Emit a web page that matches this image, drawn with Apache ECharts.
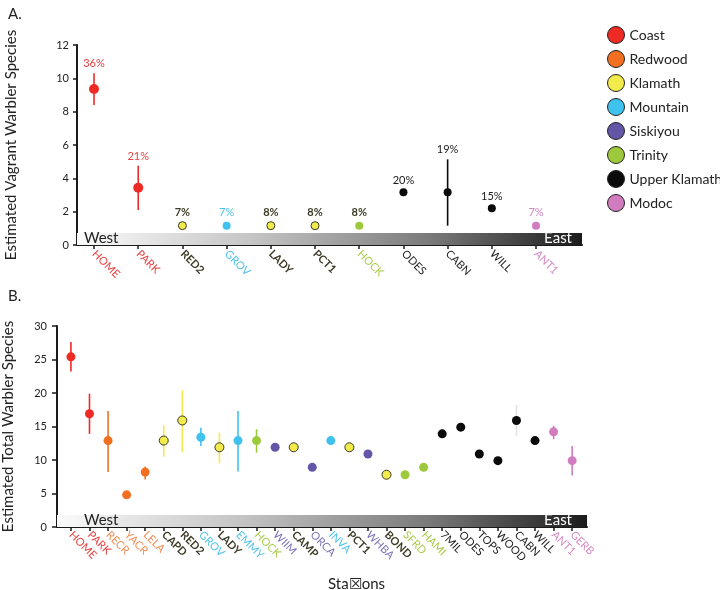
<!DOCTYPE html>
<html>
<head>
<meta charset="utf-8">
<script src="https://cdn.jsdelivr.net/npm/echarts@6/dist/echarts.min.js"></script>
<style>
html,body{margin:0;padding:0;background:#fff;}
#chart{width:720px;height:590px;}
</style>
</head>
<body>
<div id="chart"></div>
<script>
// ---------- DATA ----------
const regions = ['Coast','Redwood','Klamath','Mountain','Siskiyou','Trinity','Upper Klamath','Modoc'];

// Panel A: vagrant warbler species
const stationsA = ['HOME','PARK','RED2','GROV','LADY','PCT1','HOCK','ODES','CABN','WILL','ANT1'];
const regionA   = ['Coast','Coast','Klamath','Mountain','Klamath','Klamath','Trinity','Upper Klamath','Upper Klamath','Upper Klamath','Modoc'];
const valueA    = [9.36, 3.44, 1.16, 1.16, 1.16, 1.16, 1.16, 3.16, 3.16, 2.2, 1.16];
const lowA      = [8.4, 2.1, null, null, null, null, null, 3.0, 1.16, 2.05, null];
const highA     = [10.3, 4.76, null, null, null, null, null, 3.32, 5.14, 2.35, null];
const pctA      = ['36%','21%','7%','7%','8%','8%','8%','20%','19%','15%','7%'];

// Panel B: total warbler species
const stationsB = ['HOME','PARK','RECR','YACR','LELA','CAPD','RED2','GROV','LADY','EMMY','HOCK','WIIM','CAMP','ORCA','INVA','PCT1','WHBA','BOND','SFRD','HAMI','7MIL','ODES','TOPS','WOOD','CABN','WILL','ANT1','GERB'];
const regionB   = ['Coast','Coast','Redwood','Redwood','Redwood','Klamath','Klamath','Mountain','Klamath','Mountain','Trinity','Siskiyou','Klamath','Siskiyou','Mountain','Klamath','Siskiyou','Klamath','Trinity','Trinity','Upper Klamath','Upper Klamath','Upper Klamath','Upper Klamath','Upper Klamath','Upper Klamath','Modoc','Modoc'];
const valueB    = [25.4, 16.9, 12.9, 4.8, 8.2, 12.9, 15.9, 13.4, 11.9, 12.9, 12.9, 11.9, 11.9, 8.9, 12.9, 11.9, 10.9, 7.8, 7.8, 8.9, 13.9, 14.9, 10.9, 9.9, 15.9, 12.9, 14.2, 9.9];
const lowB      = [23.2, 13.9, 8.2, null, 7.1, 10.5, 11.2, 12.1, 9.5, 8.3, 11.1, null, null, null, null, null, null, null, null, null, null, null, null, null, 13.6, null, 13.1, 7.7];
const highB     = [27.6, 19.9, 17.3, null, 9.0, 15.2, 20.4, 14.8, 14.1, 17.3, 14.6, null, null, null, null, null, null, null, null, null, null, null, null, null, 18.2, null, 15.1, 12.1];

const yTicksA = [0, 2, 4, 6, 8, 10, 12];
const yTicksB = [0, 5, 10, 15, 20, 25, 30];

// ---------- STYLES ----------
const FONT = 'Lato';
const dotColor = {
  'Coast':'#ee2a25','Redwood':'#f26f22','Klamath':'#f3ea4c','Mountain':'#40c2ef',
  'Siskiyou':'#6456a6','Trinity':'#9fc93c','Upper Klamath':'#0a0a0a','Modoc':'#d07cbf'
};
const labelColor = {
  'Coast':'#e8403f','Redwood':'#f08a52','Klamath':'#3d3b26','Mountain':'#4ec3ea',
  'Siskiyou':'#7c70b8','Trinity':'#a8cb47','Upper Klamath':'#1a1a1a','Modoc':'#d488c4'
};
const rich = {};
regions.forEach((r, k) => {
  rich['r' + k] = {
    color: labelColor[r], fontSize: 11, fontFamily: FONT,
    fontWeight: r === 'Klamath' ? 'bold' : 'normal'
  };
});
function labelFmt(names, regs) {
  return v => {
    const i = Math.round(v);
    if (i < 0 || i >= names.length) return '';
    return '{r' + regions.indexOf(regs[i]) + '|' + names[i] + '}';
  };
}
// percent-label style: Klamath-coloured labels are dark bold; HOCK (A) also dark bold
const pctDarkA = { 6: true };
// CABN error bar in B is drawn very faint
const faintErrB = { 24: true };

const idxA = stationsA.map((_, i) => i);
const idxB = stationsB.map((_, i) => i);

const chart = echarts.init(document.getElementById('chart'), null, {renderer:'canvas'});

function gradientBar(xmin, xmax, ytop, westDist, eastDist) {
  const grad = new echarts.graphic.LinearGradient(0, 0, 1, 0, [
    {offset: 0, color: '#fbfbfb'},
    {offset: 0.35, color: '#c4c4c4'},
    {offset: 0.7, color: '#7a7a7a'},
    {offset: 1, color: '#1c1c1c'}
  ]);
  return {
    silent: true,
    data: [
      [{xAxis: xmin, yAxis: 0, itemStyle: {color: grad},
        label: {show: true, position: 'insideLeft', distance: westDist, formatter: 'West', color: '#222', fontSize: 15, fontFamily: FONT, offset:[0,-1]}},
       {xAxis: xmax, yAxis: ytop}],
      [{xAxis: xmin, yAxis: 0, itemStyle: {color: 'rgba(0,0,0,0)'},
        label: {show: true, position: 'insideRight', distance: eastDist, formatter: 'East', color: '#fff', fontSize: 15, fontFamily: FONT, offset:[0,-1]}},
       {xAxis: xmax, yAxis: ytop}]
    ]
  };
}

const series = [];
function errSeries(name, xi, yi, low, high, regs, faint, bar) {
  const data = [];
  low.forEach((l, i) => { if (l !== null) data.push([i, l, high[i]]); });
  return {
    type: 'custom', name: name, xAxisIndex: xi, yAxisIndex: yi, silent: true, z: 3,
    encode: {x: 0, y: [1, 2]},
    data: data,
    markArea: bar,
    renderItem: (params, api) => {
      const i = api.value(0);
      const p1 = api.coord([i, api.value(1)]);
      const p2 = api.coord([i, api.value(2)]);
      const c = faint[i] ? '#e2e2e2' : dotColor[regs[i]];
      return {type: 'line', shape: {x1: p1[0], y1: p1[1], x2: p2[0], y2: p2[1]},
              style: {stroke: c, lineWidth: 1.6}};
    }
  };
}
series.push(errSeries('errA', 0, 0, lowA, highA, regionA, {}, gradientBar(-0.385, 11.04, 0.72, 7, 10)));
series.push(errSeries('errB', 1, 1, lowB, highB, regionB, faintErrB, gradientBar(-0.75, 27.8, 1.8, 27, 15)));

// percent labels in panel A
series.push({
  type: 'custom', name: 'pctA', xAxisIndex: 0, yAxisIndex: 0, silent: true, z: 5,
  data: idxA.map(i => [i, highA[i] !== null ? highA[i] : valueA[i]]),
  renderItem: (params, api) => {
    const i = params.dataIndex;
    const p = api.coord([api.value(0), api.value(1)]);
    const dark = regionA[i] === 'Klamath' || pctDarkA[i];
    const off = highA[i] !== null ? 4 : 8;
    return {type: 'text', x: p[0], y: p[1] - off,
      style: {text: pctA[i], textAlign: 'center', textVerticalAlign: 'bottom',
        fill: dark ? '#3d3b26' : labelColor[regionA[i]],
        fontWeight: dark ? 'bold' : 'normal', fontSize: 11, fontFamily: FONT}};
  }
});

// scatter points by region
regions.forEach(r => {
  const isK = r === 'Klamath';
  series.push({
    type: 'scatter', name: r, xAxisIndex: 0, yAxisIndex: 0, z: 4,
    symbolSize: r === 'Coast' ? 10 : 8,
    itemStyle: {color: dotColor[r], borderColor: isK ? '#3a3a2a' : dotColor[r], borderWidth: isK ? 1 : 0, opacity: 1},
    data: idxA.filter(i => regionA[i] === r).map(i => [i, valueA[i]])
  });
  series.push({
    type: 'scatter', name: r, xAxisIndex: 1, yAxisIndex: 1, z: 4,
    symbolSize: 9,
    itemStyle: {color: dotColor[r], borderColor: isK ? '#3a3a2a' : dotColor[r], borderWidth: isK ? 1 : 0, opacity: 1},
    data: idxB.filter(i => regionB[i] === r).map(i => [i, valueB[i]])
  });
});

const axisLineStyle = {onZero: false, lineStyle: {color: '#1a1a1a', width: 2}};
const option = {
  backgroundColor: '#fff',
  animation: false,
  textStyle: {fontFamily: FONT},
  title: [
    {text: 'A.', left: 3, top: 2, textStyle: {fontSize: 15, fontWeight: 'normal', color: '#222', fontFamily: FONT}},
    {text: 'B.', left: 3, top: 284, textStyle: {fontSize: 15, fontWeight: 'normal', color: '#222', fontFamily: FONT}},
    {text: 'Sta\u2612ons', left: 323, top: 572, textStyle: {fontSize: 15, fontWeight: 'normal', color: '#222', fontFamily: FONT}}
  ],
  legend: {
    data: regions, orient: 'vertical', left: 602, top: 21,
    icon: 'circle', itemWidth: 17, itemHeight: 17, itemGap: 6,
    itemStyle: {borderColor: '#222', borderWidth: 1},
    textStyle: {fontSize: 14, color: '#222', fontFamily: FONT}
  },
  grid: [
    {left: 77, right: 138, top: 45, height: 200, outerBoundsMode: 'none', containLabel: false},
    {left: 57, right: 133, top: 326, height: 201, outerBoundsMode: 'none', containLabel: false}
  ],
  xAxis: [
    {type: 'value', gridIndex: 0, min: -0.385, max: 11.04,
     axisLine: axisLineStyle, splitLine: {show: false},
     axisTick: {show: true, customValues: idxA, length: 4, lineStyle: {color: '#1a1a1a', width: 1.5}},
     axisLabel: {customValues: idxA, rotate: -45, margin: 7, formatter: labelFmt(stationsA, regionA), rich: rich}},
    {type: 'value', gridIndex: 1, min: -0.75, max: 27.8,
     axisLine: axisLineStyle, splitLine: {show: false},
     axisTick: {show: true, customValues: idxB, length: 4, lineStyle: {color: '#1a1a1a', width: 1.5}},
     axisLabel: {customValues: idxB, rotate: -45, margin: 6, formatter: labelFmt(stationsB, regionB), rich: rich}}
  ],
  yAxis: [
    {type: 'value', gridIndex: 0, min: 0, max: 12, interval: 2,
     name: 'Estimated Vagrant Warbler Species', nameLocation: 'middle', nameGap: 58,
     nameTextStyle: {fontSize: 15, color: '#222', fontFamily: FONT},
     axisLine: {show: true, onZero: false, lineStyle: {color: '#1a1a1a', width: 2}},
     axisTick: {show: true, length: 4, lineStyle: {color: '#1a1a1a', width: 1.5}},
     splitLine: {show: false},
     axisLabel: {color: '#222', fontSize: 11, margin: 8, customValues: yTicksA}},
    {type: 'value', gridIndex: 1, min: 0, max: 30, interval: 5,
     name: 'Estimated Total Warbler Species', nameLocation: 'middle', nameGap: 41,
     nameTextStyle: {fontSize: 15, color: '#222', fontFamily: FONT},
     axisLine: {show: true, onZero: false, lineStyle: {color: '#1a1a1a', width: 2}},
     axisTick: {show: true, length: 5, lineStyle: {color: '#1a1a1a', width: 1.5}},
     splitLine: {show: false},
     axisLabel: {color: '#222', fontSize: 11, margin: 10, customValues: yTicksB}}
  ],
  series: series
};
chart.setOption(option);
</script>
</body>
</html>
